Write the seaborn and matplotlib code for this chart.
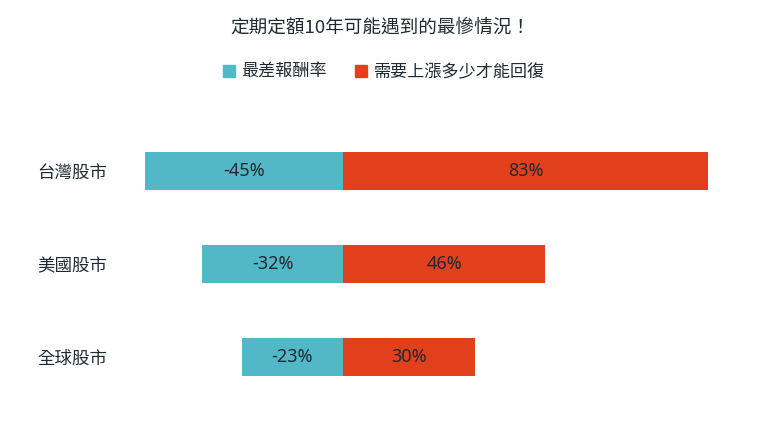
import matplotlib
matplotlib.use("Agg")
import matplotlib.pyplot as plt
import matplotlib.patches as mpatches
import pandas as pd
import seaborn as sns

markets = ["台灣股市", "美國股市", "全球股市"]
worst_return = [-45, -32, -23]
needed_gain = [83, 46, 30]
series_names = ["最差報酬率", "需要上漲多少才能回復"]
title = "定期定額10年可能遇到的最慘情況！"

TEAL = "#52B7C6"
RED = "#E2401C"
TEXT = "#1f2a30"

sns.set_theme(style="white")
plt.rcParams["font.family"] = ["Noto Sans CJK TC", "DejaVu Sans"]

df = pd.DataFrame({"market": markets, "worst": worst_return, "gain": needed_gain})

fig = plt.figure(figsize=(7.6, 4.28), dpi=100)
ax = fig.add_axes([120 / 760, 8 / 428, 620 / 760, 310 / 428])

sns.barplot(data=df, x="worst", y="market", color=TEAL, width=0.4,
            saturation=1, linewidth=0, ax=ax, orient="h")
sns.barplot(data=df, x="gain", y="market", color=RED, width=0.4,
            saturation=1, linewidth=0, ax=ax, orient="h")

for i, (w, g) in enumerate(zip(worst_return, needed_gain)):
    ax.text(w / 2, i, f"{w}%", ha="center", va="center", fontsize=13,
            color=TEXT, family=["Noto Sans", "DejaVu Sans"])
    ax.text(g / 2, i, f"{g}%", ha="center", va="center", fontsize=13,
            color=TEXT, family=["Noto Sans", "DejaVu Sans"])

ax.set_xlim((120 - 343) / 4.4, (740 - 343) / 4.4)
ax.set_ylim(2.677, -0.656)
ax.set(xlabel=None, ylabel=None)
ax.set_xticks([])
ax.tick_params(axis="y", length=0, pad=9, labelcolor=TEXT)
for lab in ax.get_yticklabels():
    lab.set_fontsize(12.6)
for s in ax.spines.values():
    s.set_visible(False)

fig.text(0.5, 1 - 28 / 428, title, ha="center", va="center",
         fontsize=13.4, color=TEXT)
handles = [mpatches.Patch(color=TEAL, label=series_names[0]),
           mpatches.Patch(color=RED, label=series_names[1])]
fig.legend(handles=handles, loc="center", bbox_to_anchor=(0.505, 1 - 72 / 428),
           ncol=2, frameon=False, prop={"size": 12.3},
           handlelength=0.7, handleheight=0.7, handletextpad=0.4,
           columnspacing=1.6, labelcolor=TEXT)

fig.savefig("out.png", dpi=100, facecolor="white")
